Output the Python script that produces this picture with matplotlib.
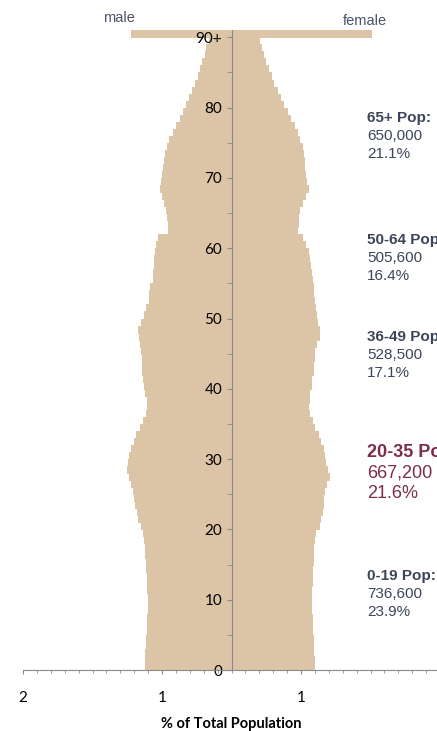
import numpy as np
import matplotlib
matplotlib.use('Agg')
import matplotlib.pyplot as plt
from matplotlib.ticker import MultipleLocator, FixedLocator

plt.rcParams['font.family'] = ['Lato', 'DejaVu Sans']

# share of total population (%) per single year of age, 0..89 and 90+
ages = list(range(91))
male = [0.621, 0.621, 0.619, 0.616, 0.614, 0.611, 0.609, 0.606, 0.604, 0.604,
        0.604, 0.606, 0.609, 0.611, 0.614, 0.616, 0.619, 0.623, 0.628, 0.640,
        0.652, 0.671, 0.683, 0.693, 0.700, 0.712, 0.724, 0.736, 0.755, 0.743,
        0.736, 0.724, 0.705, 0.688, 0.659, 0.637, 0.616, 0.609, 0.611, 0.621,
        0.633, 0.640, 0.647, 0.645, 0.647, 0.652, 0.655, 0.662, 0.671, 0.652,
        0.633, 0.614, 0.597, 0.592, 0.585, 0.568, 0.563, 0.558, 0.554, 0.551,
        0.545, 0.530, 0.458, 0.460, 0.463, 0.468, 0.484, 0.501, 0.515, 0.506,
        0.501, 0.496, 0.489, 0.479, 0.465, 0.448, 0.424, 0.400, 0.374, 0.352,
        0.328, 0.309, 0.285, 0.261, 0.244, 0.225, 0.211, 0.194, 0.180, 0.165,
        0.720]
female = [0.593, 0.590, 0.588, 0.585, 0.583, 0.580, 0.578, 0.576, 0.573, 0.573,
          0.573, 0.573, 0.576, 0.578, 0.580, 0.583, 0.585, 0.588, 0.590, 0.602,
          0.631, 0.640, 0.652, 0.657, 0.660, 0.669, 0.679, 0.698, 0.686, 0.672,
          0.662, 0.655, 0.636, 0.621, 0.597, 0.576, 0.561, 0.547, 0.554, 0.561,
          0.569, 0.573, 0.585, 0.588, 0.593, 0.597, 0.607, 0.626, 0.633, 0.617,
          0.609, 0.604, 0.593, 0.588, 0.588, 0.580, 0.573, 0.566, 0.559, 0.552,
          0.530, 0.510, 0.470, 0.475, 0.480, 0.485, 0.504, 0.530, 0.547, 0.535,
          0.530, 0.525, 0.521, 0.514, 0.506, 0.489, 0.468, 0.449, 0.422, 0.396,
          0.374, 0.350, 0.327, 0.302, 0.281, 0.262, 0.242, 0.226, 0.209, 0.197,
          1.000]

y_ticks = [0, 10, 20, 30, 40, 50, 60, 70, 80, 90]
y_labels = ['0', '10', '20', '30', '40', '50', '60', '70', '80', '90+']
x_ticks = [-1.5, -0.5, 0.5]
x_labels = ['2', '1', '1']

groups = ['65+ Pop:', '50-64 Pop:', '36-49 Pop:', '20-35 Pop:', '0-19 Pop:']
counts = ['650,000', '505,600', '528,500', '667,200', '736,600']
shares = ['21.1%', '16.4%', '17.1%', '21.6%', '23.9%']
highlight = '20-35 Pop:'

W, H = 437, 731
fig = plt.figure(figsize=(W / 100, H / 100), dpi=100)
ax = fig.add_axes([23 / W, 61 / H, 417 / W, 639.7 / H])

bar_col = '#dcc4a7'
ax.barh(ages, [-v for v in male], height=1, align='edge', color=bar_col,
        edgecolor=bar_col, linewidth=0.6, antialiased=False)
ax.barh(ages, female, height=1, align='edge', color=bar_col,
        edgecolor=bar_col, linewidth=0.6, antialiased=False)

ax.set_xlim(-1.5, 1.5)
ax.set_ylim(0, 91)

axis_col = '#8a8a8a'
for s in ['top', 'right']:
    ax.spines[s].set_visible(False)
ax.spines['left'].set_position(('data', 0))
ax.spines['left'].set_color(axis_col)
ax.spines['bottom'].set_color(axis_col)
ax.spines['left'].set_zorder(3)

ax.yaxis.set_major_locator(FixedLocator(y_ticks))
ax.set_yticklabels(y_labels)
ax.yaxis.set_minor_locator(FixedLocator([t + 5 for t in y_ticks[:-1]]))
ax.tick_params(axis='y', which='both', length=3.6, color=axis_col,
               labelsize=11, pad=3, labelcolor='black')

ax.set_xticks(x_ticks)
ax.set_xticklabels(x_labels)
ax.xaxis.set_minor_locator(MultipleLocator(0.1))
ax.tick_params(axis='x', which='major', length=3, color=axis_col,
               labelsize=11, pad=12)
ax.tick_params(axis='x', which='minor', length=2, color=axis_col)

ax.set_xlabel('% of Total Population', fontsize=10.5, fontweight='bold',
              labelpad=9)

# male / female headers
fig.text(119 / W, 1 - 18 / H, 'male', ha='center', va='center', fontsize=10.5,
         color='#4a5266', family=['Liberation Sans', 'DejaVu Sans'])
fig.text(365 / W, 1 - 21 / H, 'female', ha='center', va='center', fontsize=10.5,
         color='#4a5266', family=['Liberation Sans', 'DejaVu Sans'])

# age group annotations
tops = [118, 240, 337, 452, 576]
for g, c, s, y0 in zip(groups, counts, shares, tops):
    if g == highlight:
        col, fs, step = '#7b2d4a', 13, 21
    else:
        col, fs, step = '#3c4558', 11, 18
    fig.text(367 / W, 1 - y0 / H, g, ha='left', va='center', fontsize=fs,
             fontweight='bold', color=col, family=['Liberation Sans', 'DejaVu Sans'])
    fig.text(367 / W, 1 - (y0 + step) / H, c, ha='left', va='center', fontsize=fs,
             color=col, family=['Liberation Sans', 'DejaVu Sans'])
    fig.text(367 / W, 1 - (y0 + 2 * step) / H, s, ha='left', va='center', fontsize=fs,
             color=col, family=['Liberation Sans', 'DejaVu Sans'])

fig.savefig('out.png', dpi=100)
